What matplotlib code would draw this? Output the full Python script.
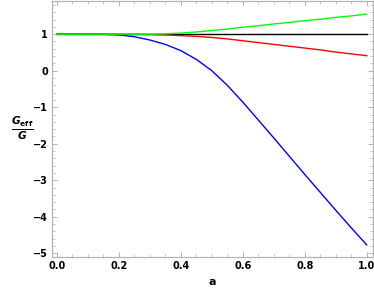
import numpy as np
import matplotlib.pyplot as plt
import matplotlib.ticker as mticker

# values
a = [0.0, 0.05, 0.1, 0.15, 0.2, 0.25, 0.3, 0.35, 0.4, 0.45, 0.5,
     0.55, 0.6, 0.65, 0.7, 0.75, 0.8, 0.85, 0.9, 0.95, 1.0]
g_black = [1.0] * len(a)
g_blue = [1.0, 1.0, 1.0, 0.995, 0.98, 0.93, 0.84, 0.72, 0.55, 0.31, 0.0,
          -0.40, -0.86, -1.35, -1.84, -2.34, -2.84, -3.33, -3.82, -4.30, -4.77]
g_red = [1.0, 1.0, 1.0, 1.0, 1.0, 0.995, 0.99, 0.98, 0.96, 0.94, 0.91,
         0.87, 0.82, 0.77, 0.72, 0.67, 0.62, 0.57, 0.51, 0.46, 0.41]
g_green = [1.0, 1.0, 1.0, 1.0, 1.0, 1.0, 1.0, 1.01, 1.03, 1.06, 1.10,
           1.14, 1.19, 1.23, 1.28, 1.32, 1.37, 1.41, 1.46, 1.50, 1.55]

xticks = [0.0, 0.2, 0.4, 0.6, 0.8, 1.0]
xticklabels = ['0.0', '0.2', '0.4', '0.6', '0.8', '1.0']
yticks = [-5, -4, -3, -2, -1, 0, 1]
yticklabels = ['\u22125', '\u22124', '\u22123', '\u22122', '\u22121', '0', '1']

fig = plt.figure(figsize=(3.74, 2.89), dpi=100)
ax = fig.add_axes([0.139, 0.111, 0.858, 0.887])

ax.plot(a, g_black, color='black', lw=1.0)
ax.plot(a, g_blue, color='#0000ff', lw=1.0)
ax.plot(a, g_red, color='#ff0000', lw=1.0)
ax.plot(a, g_green, color='#00ff00', lw=1.0)

ax.set_xlim(-0.016, 1.02)
ax.set_ylim(-5.10, 1.92)

ax.set_xticks(xticks)
ax.set_xticklabels(xticklabels, fontsize=7, fontweight='bold')
ax.set_yticks(yticks)
ax.set_yticklabels(yticklabels, fontsize=7, fontweight='bold')
ax.xaxis.set_minor_locator(mticker.MultipleLocator(0.05))
ax.yaxis.set_minor_locator(mticker.MultipleLocator(0.2))

for s in ax.spines.values():
    s.set_color('#b4b4b4')
    s.set_linewidth(0.9)
ax.tick_params(which='both', direction='in', color='#b4b4b4',
               top=True, right=True, labeltop=False, labelright=False)
ax.tick_params(which='major', length=3.5, width=0.7, pad=3)
ax.tick_params(which='minor', length=2, width=0.5)

ax.set_xlabel('a', fontsize=8, fontweight='bold', labelpad=4)
fig.text(0.059, 0.557, r'$\frac{\mathbfit{G}_{\mathbf{eff}}}{\mathbfit{G}}$',
         fontsize=11, ha='center', va='center')

fig.savefig('out.png', dpi=100)
